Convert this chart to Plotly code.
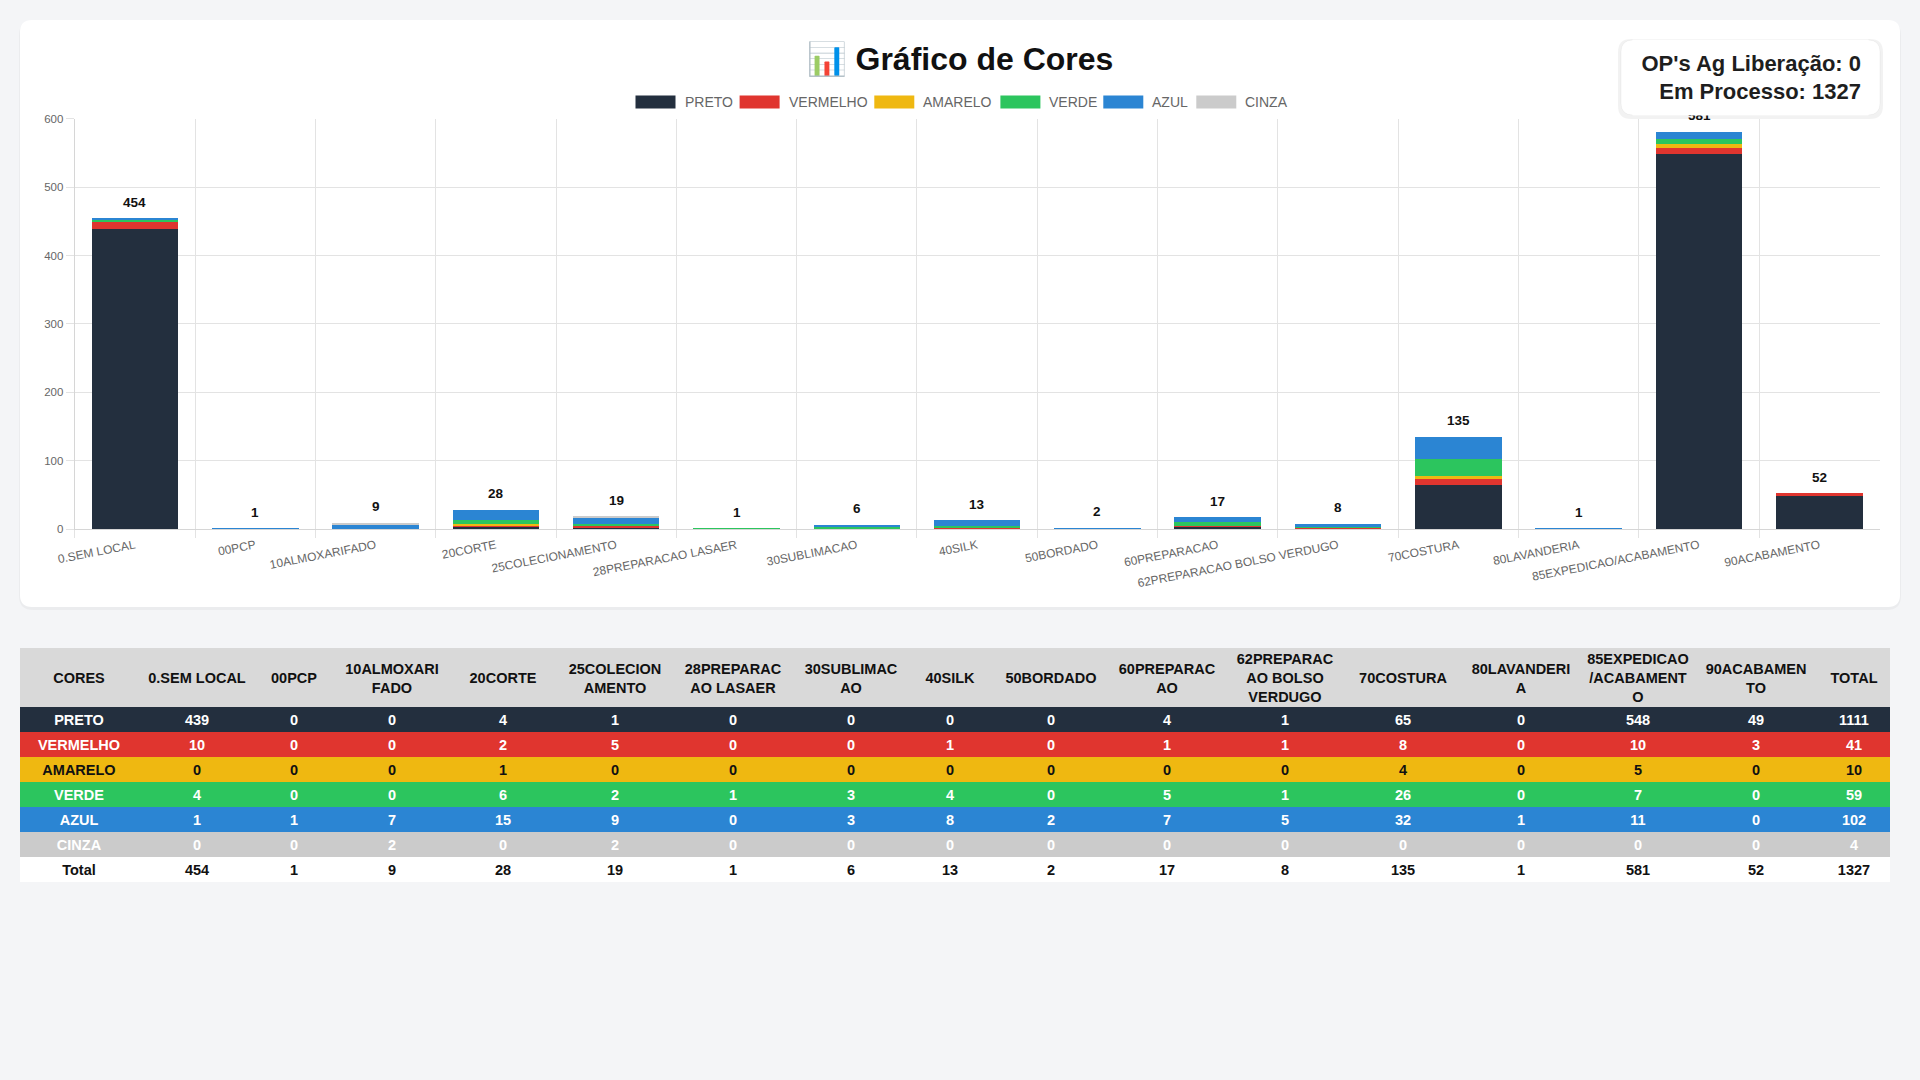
import plotly.graph_objects as go

W, H = 1920, 1080
FONT = "Liberation Sans, Arial, Helvetica, sans-serif"

# ---------------- data ----------------
categories = [
    "0.SEM LOCAL", "00PCP", "10ALMOXARIFADO", "20CORTE", "25COLECIONAMENTO",
    "28PREPARACAO LASAER", "30SUBLIMACAO", "40SILK", "50BORDADO", "60PREPARACAO",
    "62PREPARACAO BOLSO VERDUGO", "70COSTURA", "80LAVANDERIA",
    "85EXPEDICAO/ACABAMENTO", "90ACABAMENTO",
]
header_labels = [
    "0.SEM LOCAL", "00PCP", "10ALMOXARI<br>FADO", "20CORTE", "25COLECION<br>AMENTO",
    "28PREPARAC<br>AO LASAER", "30SUBLIMAC<br>AO", "40SILK", "50BORDADO",
    "60PREPARAC<br>AO", "62PREPARAC<br>AO BOLSO<br>VERDUGO", "70COSTURA",
    "80LAVANDERI<br>A", "85EXPEDICAO<br>/ACABAMENT<br>O", "90ACABAMEN<br>TO",
]
series_names = ["PRETO", "VERMELHO", "AMARELO", "VERDE", "AZUL", "CINZA"]
preto    = [439, 0, 0, 4, 1, 0, 0, 0, 0, 4, 1, 65, 0, 548, 49]
vermelho = [10, 0, 0, 2, 5, 0, 0, 1, 0, 1, 1, 8, 0, 10, 3]
amarelo  = [0, 0, 0, 1, 0, 0, 0, 0, 0, 0, 0, 4, 0, 5, 0]
verde    = [4, 0, 0, 6, 2, 1, 3, 4, 0, 5, 1, 26, 0, 7, 0]
azul     = [1, 1, 7, 15, 9, 0, 3, 8, 2, 7, 5, 32, 1, 11, 0]
cinza    = [0, 0, 2, 0, 2, 0, 0, 0, 0, 0, 0, 0, 0, 0, 0]
series_values = [preto, vermelho, amarelo, verde, azul, cinza]
op_ag_liberacao = 0
y_ticks = [0, 100, 200, 300, 400, 500, 600]

# ---------------- styles ----------------
series_colors = ["#232f3e", "#e0352f", "#efb811", "#2cc55e", "#2b85d3", "#cbcbcb"]
row_text_colors = ["#ffffff", "#ffffff", "#111111", "#ffffff", "#ffffff", "#ffffff"]
page_bg = "#f4f5f7"
grid = "#e3e3e3"
col_widths = [96, 96, 62, 98, 84, 98, 94, 98, 64, 100, 90, 102, 90, 102, 90, 102, 58]
header_h = 59
row_h = 25

totals = [sum(v[i] for v in series_values) for i in range(len(categories))]
row_totals = [sum(v) for v in series_values]
grand_total = sum(row_totals)


def px(x):
    return x / W


def py(y):
    return 1 - y / H


def rounded(x0, y0, x1, y1, r):
    rx, ry = r / W, r / H
    X0, X1 = px(x0), px(x1)
    Y0, Y1 = py(y0), py(y1)  # Y0 top, Y1 bottom (paper)
    return (f"M {X0+rx},{Y0} L {X1-rx},{Y0} Q {X1},{Y0} {X1},{Y0-ry} "
            f"L {X1},{Y1+ry} Q {X1},{Y1} {X1-rx},{Y1} L {X0+rx},{Y1} "
            f"Q {X0},{Y1} {X0},{Y1+ry} L {X0},{Y0-ry} Q {X0},{Y0} {X0+rx},{Y0} Z")


fig = go.Figure()

# ---------------- stacked bars ----------------
for name, vals, col in zip(series_names, series_values, series_colors):
    fig.add_trace(go.Bar(
        x=categories, y=vals, name=name, marker=dict(color=col, line=dict(width=0)),
        showlegend=False,
    ))

# ---------------- table (heatmap cells with text) ----------------
x_edges = [0]
for w in col_widths:
    x_edges.append(x_edges[-1] + w)

table_rows = []  # (texts, fill, font color, height)
table_rows.append((["CORES"] + header_labels + ["TOTAL"], "#d9d9d9", "#111111", header_h))
for name, vals, fill, fc, rt in zip(series_names, series_values, series_colors,
                                    row_text_colors, row_totals):
    table_rows.append(([name] + [str(v) for v in vals] + [str(rt)], fill, fc, row_h))
table_rows.append((["Total"] + [str(t) for t in totals] + [str(grand_total)],
                   "#ffffff", "#111111", row_h))

y_top = 0
for texts, fill, fc, hgt in table_rows:
    fig.add_trace(go.Heatmap(
        x=x_edges, y=[y_top, y_top + hgt], z=[[1] * len(texts)],
        colorscale=[[0, fill], [1, fill]], showscale=False, zmin=0, zmax=2,
        text=[[f"<b>{t}</b>" for t in texts]], texttemplate="%{text}",
        textfont=dict(family=FONT, size=14.5, color=fc),
        xaxis="x2", yaxis="y2", hoverinfo="skip", xgap=0, ygap=0,
    ))
    y_top += hgt
table_height = y_top

# ---------------- shapes ----------------
shapes = []
shapes.append(dict(type="path", xref="paper", yref="paper", layer="below",
                   path=rounded(19, 21, 1901, 610, 14), fillcolor="rgba(0,0,0,0.035)",
                   line=dict(width=0)))
shapes.append(dict(type="path", xref="paper", yref="paper", layer="below",
                   path=rounded(20, 20, 1900, 607, 12), fillcolor="#ffffff",
                   line=dict(width=0)))
shapes.append(dict(type="path", xref="paper", yref="paper", layer="above",
                   path=rounded(1618, 39, 1883, 119, 13), fillcolor="rgba(0,0,0,0.05)",
                   line=dict(width=0)))
shapes.append(dict(type="path", xref="paper", yref="paper", layer="above",
                   path=rounded(1621, 40, 1880, 115, 12), fillcolor="#ffffff",
                   line=dict(color="rgba(0,0,0,0.04)", width=1)))

# custom Chart.js-like legend
legend_x = [635.5, 739.6, 874.3, 1000.4, 1103.3, 1196.3]
legend_y = 102
annotations = []
for name, col, lx in zip(series_names, series_colors, legend_x):
    shapes.append(dict(type="rect", xref="paper", yref="paper", layer="above",
                       x0=px(lx), x1=px(lx + 40), y0=py(legend_y + 6.5), y1=py(legend_y - 6.5),
                       fillcolor=col, line=dict(width=0)))
    annotations.append(dict(xref="paper", yref="paper", x=px(lx + 47), y=py(legend_y),
                            xanchor="left", yanchor="middle", showarrow=False,
                            text=name, font=dict(family=FONT, size=14, color="#666666")))

# total labels above bars
for c, t in zip(categories, totals):
    annotations.append(dict(x=c, y=t, xref="x", yref="y", yshift=16, showarrow=False,
                            yanchor="middle", text=f"<b>{t}</b>",
                            font=dict(family=FONT, size=13.5, color="#111111")))

# OP box text (drawn last so it sits on top)
annotations.append(dict(
    xref="paper", yref="paper", x=px(1750.5), y=py(77.5), xanchor="center", yanchor="middle",
    showarrow=False, align="right", width=221, height=61, borderpad=7, bgcolor="#ffffff",
    text=f"<b>OP's Ag Liberação: {op_ag_liberacao}</b><br><b>Em Processo: {grand_total}</b>",
    font=dict(family=FONT, size=22, color="#1e1e1e"),
))

fig.update_layout(
    width=W, height=H, margin=dict(l=0, r=0, t=0, b=0),
    paper_bgcolor=page_bg, plot_bgcolor="rgba(0,0,0,0)",
    barmode="stack", bargap=0.28,
    font=dict(family=FONT, color="#666666"),
    title=dict(text="<b>📊 Gráfico de Cores</b>", x=0.5, xanchor="center", xref="paper",
               y=py(59), yanchor="middle", yref="paper",
               font=dict(family=FONT, size=32, color="#111111")),
    showlegend=False,
    shapes=shapes, annotations=annotations,
    xaxis=dict(domain=[px(74.7), px(1879.6)], type="category", tickson="boundaries",
               showgrid=True, gridcolor=grid, gridwidth=1, ticks="outside", ticklen=8,
               tickcolor=grid, showline=True, linecolor="#d6d6d6", tickangle=-11,
               ticklabelstandoff=4,
               tickfont=dict(family=FONT, size=12, color="#666666"), automargin=False,
               fixedrange=True),
    yaxis=dict(domain=[py(529), py(118.8)], range=[0, 600], tickvals=y_ticks,
               showgrid=True, gridcolor=grid, gridwidth=1, ticks="outside", ticklen=8,
               tickcolor=grid, showline=True, linecolor="#d6d6d6", zeroline=False,
               tickfont=dict(family=FONT, size=11.5, color="#666666"), automargin=False,
               fixedrange=True),
    xaxis2=dict(domain=[px(20), px(1890)], range=[0, x_edges[-1]], visible=False,
                anchor="y2", fixedrange=True),
    yaxis2=dict(domain=[py(648 + table_height), py(648)], range=[table_height, 0],
                visible=False, anchor="x2", fixedrange=True),
)

fig.write_html(
    "out.html",
    config={"displayModeBar": False},
    post_script="document.body.style.margin='0';document.body.style.overflow='hidden';"
                "document.body.style.background='#f4f5f7';",
)
